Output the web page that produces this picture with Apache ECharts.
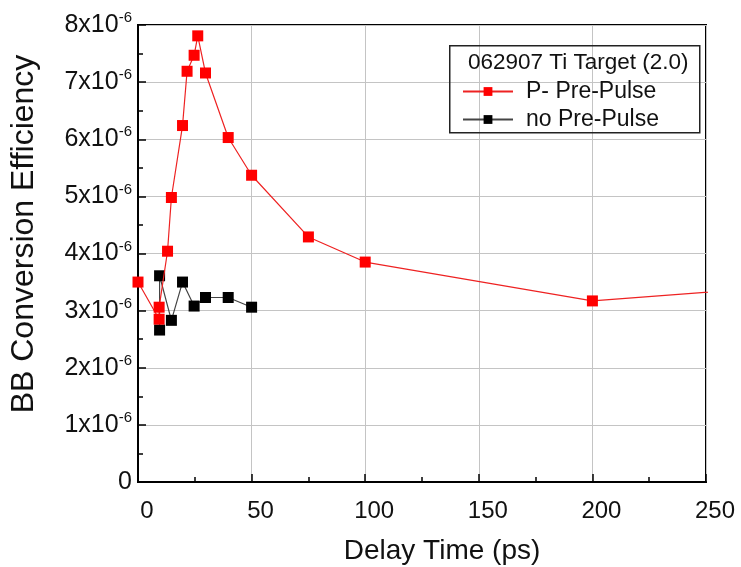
<!DOCTYPE html>
<html>
<head>
<meta charset="utf-8">
<script src="https://cdn.jsdelivr.net/npm/echarts@6/dist/echarts.min.js"></script>
<style>
  html, body { margin: 0; padding: 0; background: #fff; }
  #chart { width: 741px; height: 567px; }
</style>
</head>
<body>
<div id="chart"></div>
<script>
// Delay time (ps) and BB conversion efficiency for the two shot series
const withPreDelay = [0, 9.3, 9.3, 13, 14.7, 19.6, 21.6, 24.7, 26.3, 29.7, 39.7, 50, 75, 100, 200, 300];
const withPreEff   = [3.50e-6, 2.85e-6, 3.06e-6, 4.04e-6, 4.98e-6, 6.24e-6, 7.19e-6, 7.47e-6, 7.81e-6, 7.16e-6, 6.03e-6, 5.37e-6, 4.29e-6, 3.85e-6, 3.17e-6, 3.47e-6];
const noPreDelay   = [9.5, 9.5, 14.7, 19.6, 24.7, 29.7, 39.7, 50];
const noPreEff     = [2.66e-6, 3.61e-6, 2.83e-6, 3.50e-6, 3.08e-6, 3.23e-6, 3.23e-6, 3.06e-6];

const seriesNames = ['P- Pre-Pulse', 'no Pre-Pulse'];
const legendTitle = '062907 Ti Target (2.0)';
const xTitle = 'Delay Time (ps)';
const yTitle = 'BB Conversion Efficiency';

const FONT = "'Liberation Sans', Arial, Helvetica, sans-serif";

function pairs(xs, ys) { return xs.map((x, i) => [x, ys[i]]); }

const chart = echarts.init(document.getElementById('chart'), null, { renderer: 'canvas' });

chart.setOption({
  backgroundColor: '#ffffff',
  animation: false,
  grid: {
    left: 138, right: 35, top: 25, bottom: 85,
    show: true, borderColor: '#000', borderWidth: 2, backgroundColor: 'transparent'
  },
  xAxis: {
    type: 'value', min: 0, max: 250, interval: 50,
    axisLine: { show: true, lineStyle: { color: '#000', width: 2 } },
    axisTick: { show: true, inside: true, length: 8, lineStyle: { color: '#000', width: 1.5 } },
    minorTick: { show: true, splitNumber: 2, length: 5, lineStyle: { color: '#000', width: 1.5 } },
    splitLine: { show: true, lineStyle: { color: '#c4c4c4', width: 1 } },
    axisLabel: { margin: 17, color: '#111', fontFamily: FONT, fontSize: 24, padding: [0, 0, 0, 18] }
  },
  yAxis: {
    type: 'value', min: 0, max: 8e-6, interval: 1e-6,
    axisLine: { show: true, lineStyle: { color: '#000', width: 2 } },
    axisTick: { show: true, inside: true, length: 8, lineStyle: { color: '#000', width: 1.5 } },
    minorTick: { show: true, splitNumber: 2, length: 5, lineStyle: { color: '#000', width: 1.5 } },
    splitLine: { show: true, lineStyle: { color: '#c4c4c4', width: 1 } },
    axisLabel: {
      margin: 6, color: '#111',
      formatter: function (v) {
        const n = Math.round(v * 1e6);
        return n === 0 ? '{m|0}' : '{m|' + n + 'x10}{s|-6}';
      },
      rich: {
        m: { fontFamily: FONT, fontSize: 25, color: '#111' },
        s: { fontFamily: FONT, fontSize: 15, color: '#111', verticalAlign: 'top', padding: [0, 0, 14, 0] }
      }
    }
  },
  legend: {
    orient: 'vertical', left: 462, top: 80, padding: 0,
    itemWidth: 50, itemHeight: 11, itemGap: 5,
    data: seriesNames,
    textStyle: { fontFamily: FONT, fontSize: 23, color: '#111', padding: [0, 0, 0, 8] }
  },
  graphic: [
    {
      type: 'rect', left: 449, top: 45, z: 10,
      shape: { width: 250, height: 87 },
      style: { fill: 'transparent', stroke: '#222', lineWidth: 1.5 }
    },
    {
      type: 'text', x: 468, y: 63, z: 11,
      style: { text: legendTitle, font: '22.5px ' + FONT, fill: '#111', textAlign: 'left', textVerticalAlign: 'middle' }
    },
    {
      type: 'text', x: 442, y: 551,
      style: { text: xTitle, font: '28px ' + FONT, fill: '#111', textAlign: 'center', textVerticalAlign: 'middle' }
    },
    {
      type: 'text', x: 24, y: 234, rotation: Math.PI / 2,
      style: { text: yTitle, font: '32px ' + FONT, fill: '#111', textAlign: 'center', textVerticalAlign: 'middle' }
    }
  ],
  series: [
    {
      name: seriesNames[0], type: 'line', data: pairs(withPreDelay, withPreEff),
      symbol: 'rect', symbolSize: 11, clip: true, z: 3,
      lineStyle: { color: '#ee2222', width: 1.2 },
      itemStyle: { color: '#ff0000' }
    },
    {
      name: seriesNames[1], type: 'line', data: pairs(noPreDelay, noPreEff),
      symbol: 'rect', symbolSize: 11, clip: true, z: 2,
      lineStyle: { color: '#444444', width: 1.2 },
      itemStyle: { color: '#000000' }
    }
  ]
});
</script>
</body>
</html>
